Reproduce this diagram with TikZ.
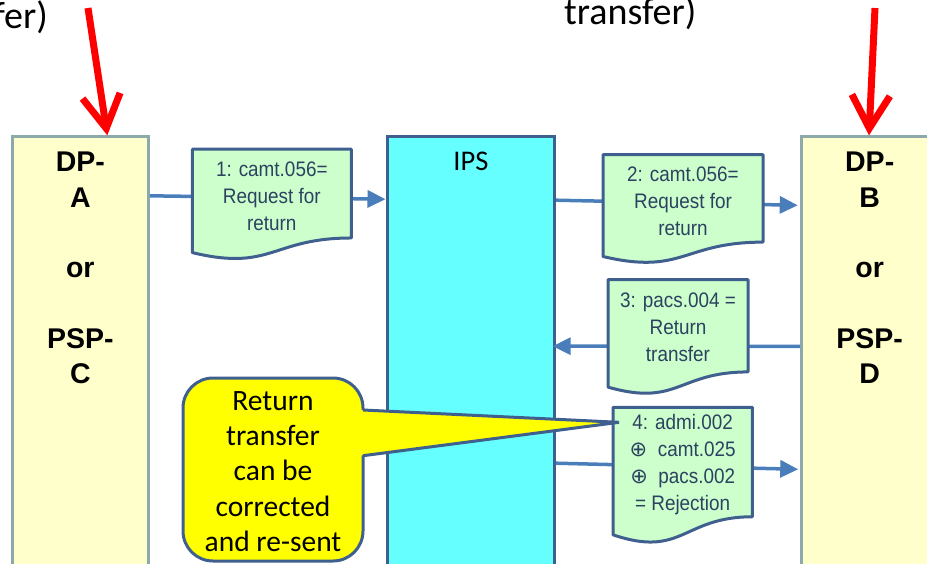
\documentclass[tikz,border=0pt]{standalone}
\usepackage{fontspec}
\setmainfont{Liberation Sans}
\newfontfamily\calfont{Carlito}
\newfontfamily\symfont{DejaVu Sans}
\newfontfamily\narrowfont[FakeStretch=0.9]{Liberation Sans}
\usetikzlibrary{arrows.meta,calc}
\definecolor{dpfill}{HTML}{FFFFCC}
\definecolor{dpline}{HTML}{8EA9AB}
\definecolor{ipsfill}{HTML}{66FFFF}
\definecolor{shapeline}{HTML}{3F5F8F}
\definecolor{docfill}{HTML}{CCFFCC}
\definecolor{connblue}{HTML}{4A7EBB}
\definecolor{doctextc}{HTML}{2C4260}
\definecolor{notefill}{HTML}{FFFF00}
\definecolor{redarr}{HTML}{FF0000}
\tikzset{
  dpbox/.style={draw=dpline, fill=dpfill, line width=3pt, minimum width=136pt,
    minimum height=450pt, anchor=north west, inner sep=0pt, outer sep=0pt},
  ipsbox/.style={draw=shapeline, fill=ipsfill, line width=3pt, minimum width=167.7pt,
    minimum height=450pt, anchor=north west, inner sep=0pt, outer sep=0pt},
  dptext/.style={align=center, anchor=base, inner sep=0pt,
    font=\fontsize{28.5}{35.3}\selectfont\bfseries},
  ipstext/.style={anchor=base, inner sep=0pt, font=\calfont\fontsize{28.5}{34}\selectfont},
  docnode/.style={draw=none, anchor=north west, inner sep=0pt, outer sep=0pt},
  docline/.style={draw=shapeline, fill=docfill, line width=3pt, line join=round},
  doctext/.style={align=center, anchor=base, inner sep=0pt, text=doctextc,
    font=\narrowfont\fontsize{21}{27}\selectfont},
  conn/.style={draw=connblue, line width=3.5pt, -{Triangle[length=18pt,width=17pt]}},
  notebox/.style={draw=shapeline, fill=notefill, line width=3pt, rounded corners=30pt,
    minimum width=180pt, minimum height=183pt, anchor=north west, inner sep=0pt, outer sep=0pt},
  noteline/.style={draw=shapeline, line width=3pt},
  notetext/.style={align=center, anchor=base, inner sep=0pt,
    font=\calfont\fontsize{29.5}{35.4}\selectfont},
  toptext/.style={inner sep=0pt, font=\calfont\fontsize{38}{44}\selectfont},
  redarrow/.style={draw=redarr, line width=7pt,
    -{Straight Barb[length=33pt,width=38pt]}}
}
\newcommand{\drawdoc}[1]{%
  \draw[docline] (#1.north west) -- (#1.north east)
    -- ($(#1.north east)!0.802!(#1.south east)$)
    .. controls ($(#1.north)!0.802!(#1.south)$) and ($(#1.north)!1.107!(#1.south)$)
    .. ($(#1.north west)!0.934!(#1.south west)$) -- cycle;}
\newcommand{\opl}{{\symfont ⊕}}
\begin{document}
\begin{tikzpicture}[x=1pt,y=-1pt]
\useasboundingbox (0,0) rectangle (927,563);
\clip (0,0) rectangle (927,563);

% top texts
\node[toptext, anchor=base east] (tl) at (48,28) {fer)};
\node[toptext, anchor=base west] (tr) at (564,24) {transfer)};

% big boxes
\node[dpbox] (dpa) at (12.3,136.3) {};
\node[dpbox] (dpb) at (801.7,136.3) {};
\node[ipsbox] (ips) at (387,136.2) {};

% multi-line nodes: base = baseline of the last line
\node[dptext] (dpat) at ($(dpa.north)+(0,247.2)$) {DP-\\A\\[35.3pt]or\\[35.3pt]PSP-\\C};
\node[dptext] (dpbt) at ($(dpb.north)+(0,247.2)$) {DP-\\B\\[35.3pt]or\\[35.3pt]PSP-\\D};
\node[ipstext] (ipst) at ($(ips.north)+(0,33.8)$) {IPS};

% red arrows
\coordinate (rA) at (88,8);
\coordinate (rB) at (875,8);
\draw[redarrow] (rA) -- ($(dpa.north west)+(95,-1)$);
\draw[redarrow] (rB) -- ($(dpb.north west)+(67.3,-1)$);

% connectors
\draw[conn] ($(dpa.north east)+(1.5,59.5)$) -- ($(ips.north west)+(-1.5,63)$);
\draw[conn] ($(ips.north east)+(1.5,64)$) -- ($(dpb.north west)+(-4,69)$);
\draw[conn] ($(dpb.north west)+(-1.5,210)$) -- ($(ips.north east)+(-2,210)$);
\draw[conn] ($(ips.north east)+(1.5,327)$) -- ($(dpb.north west)+(-3.5,333)$);

% documents
\node[docnode, minimum width=159pt, minimum height=110.7pt] (d1) at (192.3,149.2) {};
\node[docnode, minimum width=160pt, minimum height=109pt] (d2) at (603,154.7) {};
\node[docnode, minimum width=140pt, minimum height=115pt] (d3) at (608,279.7) {};
\node[docnode, minimum width=139.3pt, minimum height=136.5pt] (d4) at (613,407.3) {};
\drawdoc{d1}
\drawdoc{d2}
\drawdoc{d3}
\drawdoc{d4}
\node[doctext] (t1) at ($(d1.north)+(0,81.5)$) {1: camt.056=\\Request for\\return};
\node[doctext] (t2) at ($(d2.north)+(0,81)$) {2: camt.056=\\Request for\\return};
\node[doctext] (t3) at ($(d3.north)+(0,81.5)$) {3: pacs.004 =\\Return\\transfer};
\node[doctext] (t4) at ($(d4.north)+(0,103)$) {4: admi.002\\\opl\ \ camt.025\\\opl\ \ pacs.002\\= Rejection};

% callout
\node[notebox] (note) at (183,378) {};
\coordinate (tip) at ($(d4.north west)+(6,15)$);
\coordinate (p1) at ($(note.north east)+(0,32)$);
\coordinate (p2) at ($(note.north east)+(0,77.7)$);
\fill[notefill] ($(p1)+(-4,0)$) -- (tip) -- ($(p2)+(-4,0)$) -- cycle;
\draw[noteline] (p1) -- (tip) -- (p2);
\node[notetext] (nt) at ($(note.north)+(0,173.6)$) {Return\\transfer\\can be\\corrected\\and re-sent};
\end{tikzpicture}
\end{document}
